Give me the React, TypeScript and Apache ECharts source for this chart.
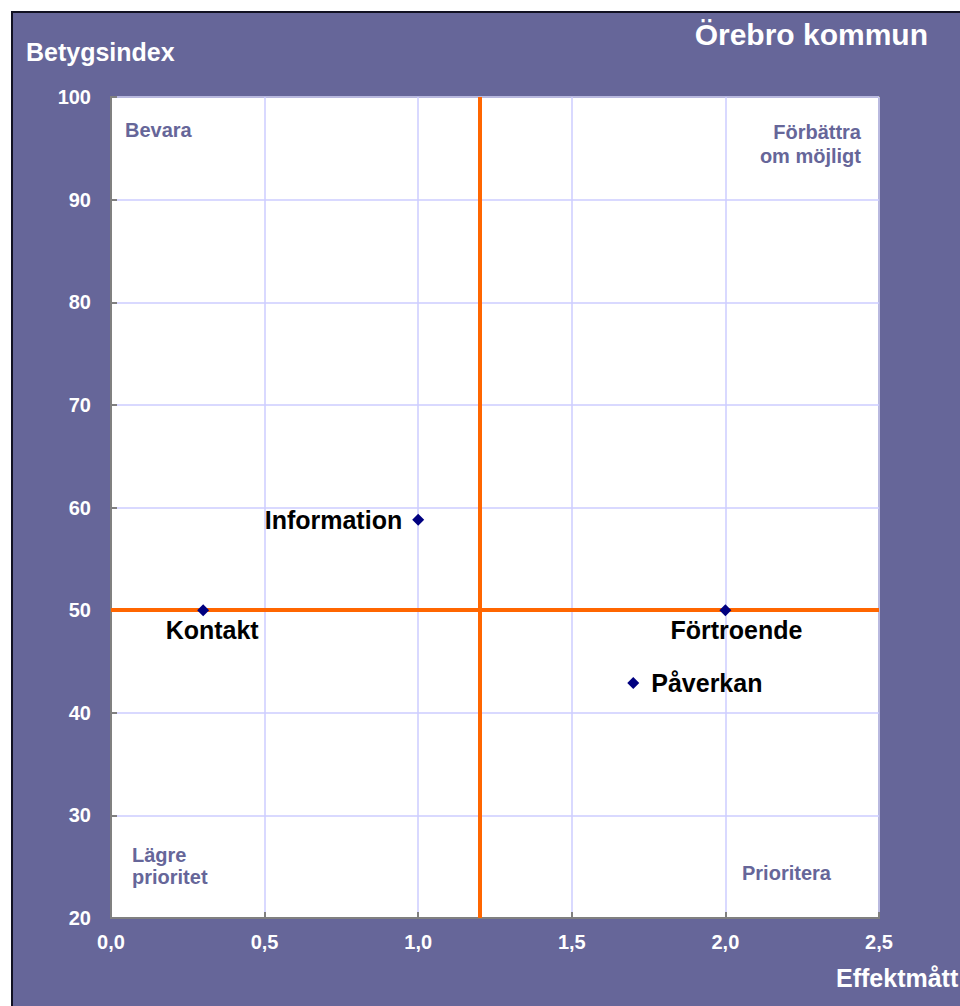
import React, { useEffect, useRef } from "react";
import * as echarts from "echarts";

// ---- Data ----
const pointNames = ["Information", "Kontakt", "Förtroende", "Påverkan"];
const effektValues = [1.0, 0.3, 2.0, 1.7];
const betygValues = [58.8, 50, 50, 42.9];

const dividerX = 1.2;
const dividerY = 50;

const xMin = 0;
const xMax = 2.5;
const xInterval = 0.5;
const yMin = 20;
const yMax = 100;
const yInterval = 10;

const titleText = "Örebro kommun";
const yAxisTitle = "Betygsindex";
const xAxisTitle = "Effektmått";

// ---- Styling ----
const FONT = "'Liberation Sans', Arial, Helvetica, sans-serif";
const PURPLE = "#666699";

const labelPlacement: Record<string, any> = {
  Information: { position: "left", distance: 10 },
  Kontakt: { position: "bottom", distance: 1, offset: [9, 0] },
  Förtroende: { position: "bottom", distance: 1, offset: [11, 0] },
  Påverkan: { position: "right", distance: 12 },
};

function quadText(text: string, x: number, y: number, align: string = "left") {
  return {
    type: "text",
    x,
    y,
    z: 100,
    silent: true,
    style: {
      text,
      fill: PURPLE,
      font: `bold 20px ${FONT}`,
      textAlign: align,
      textVerticalAlign: "middle",
    },
  };
}

function whiteText(text: string, x: number, y: number, size: number, align: string = "left") {
  return {
    type: "text",
    x,
    y,
    z: 100,
    silent: true,
    style: {
      text,
      fill: "#ffffff",
      font: `bold ${size}px ${FONT}`,
      textAlign: align,
      textVerticalAlign: "middle",
    },
  };
}

export default function App() {
  const ref = useRef<HTMLDivElement>(null);

  useEffect(() => {
    if (!ref.current) return;
    const chart = echarts.init(ref.current, undefined, { renderer: "svg" });

    const option: any = {
      animation: false,
      backgroundColor: PURPLE,
      grid: {
        left: 111,
        right: 81,
        top: 97,
        bottom: 88,
        show: true,
        backgroundColor: "#ffffff",
        borderColor: "#808080",
        borderWidth: 2,
      },
      xAxis: {
        type: "value",
        min: xMin,
        max: xMax,
        interval: xInterval,
        axisLine: { show: true, onZero: false, lineStyle: { color: "#808080", width: 2 } },
        axisTick: { show: true, inside: true, length: 6, lineStyle: { color: "#808080", width: 2 } },
        splitLine: { show: true, lineStyle: { color: "#CCCCFF", width: 1.5 } },
        axisLabel: {
          color: "#ffffff",
          fontSize: 20,
          fontWeight: "bold",
          fontFamily: FONT,
          margin: 14,
          formatter: (v: number) => v.toFixed(1).replace(".", ","),
        },
      },
      yAxis: {
        type: "value",
        min: yMin,
        max: yMax,
        interval: yInterval,
        axisLine: { show: true, onZero: false, lineStyle: { color: "#808080", width: 2 } },
        axisTick: { show: true, inside: true, length: 6, lineStyle: { color: "#808080", width: 2 } },
        splitLine: { show: true, lineStyle: { color: "#CCCCFF", width: 1.5 } },
        axisLabel: {
          color: "#ffffff",
          fontSize: 20,
          fontWeight: "bold",
          fontFamily: FONT,
          margin: 20,
        },
      },
      series: [
        {
          type: "scatter",
          symbol: "diamond",
          symbolSize: 12,
          z: 5,
          itemStyle: { color: "#000080", opacity: 1 },
          label: {
            show: true,
            formatter: "{b}",
            color: "#000000",
            opacity: 1,
            fontSize: 25,
            fontWeight: "bold",
            fontFamily: FONT,
          },
          emphasis: { disabled: true },
          data: pointNames.map((n, i) => ({
            name: n,
            value: [effektValues[i], betygValues[i]],
            label: labelPlacement[n],
          })),
          markLine: {
            silent: true,
            symbol: ["none", "none"],
            label: { show: false },
            z: 1,
            lineStyle: { color: "#FF6600", width: 4, type: "solid", opacity: 1 },
            data: [{ xAxis: dividerX }, { yAxis: dividerY }],
          },
        },
      ],
      graphic: [
        { type: "rect", shape: { x: 0, y: 0, width: 960, height: 11 }, style: { fill: "#ffffff" }, silent: true },
        { type: "rect", shape: { x: 0, y: 0, width: 11, height: 1006 }, style: { fill: "#ffffff" }, silent: true },
        {
          type: "polyline",
          shape: { points: [[12, 1006], [12, 12], [960, 12]] },
          style: { stroke: "#111122", lineWidth: 2, fill: null },
          silent: true,
        },
        whiteText(yAxisTitle, 26, 52, 25),
        whiteText(titleText, 928, 34, 30, "right"),
        whiteText(xAxisTitle, 836, 978, 25),
        quadText("Bevara", 125, 130),
        quadText("Förbättra", 861, 132, "right"),
        quadText("om möjligt", 861, 156, "right"),
        quadText("Lägre", 132, 855),
        quadText("prioritet", 132, 877),
        quadText("Prioritera", 742, 873),
      ],
    };

    chart.setOption(option);
    return () => chart.dispose();
  }, []);

  return (
    <div
      ref={ref}
      style={{ position: "absolute", left: 0, top: 0, width: 960, height: 1006 }}
    />
  );
}
